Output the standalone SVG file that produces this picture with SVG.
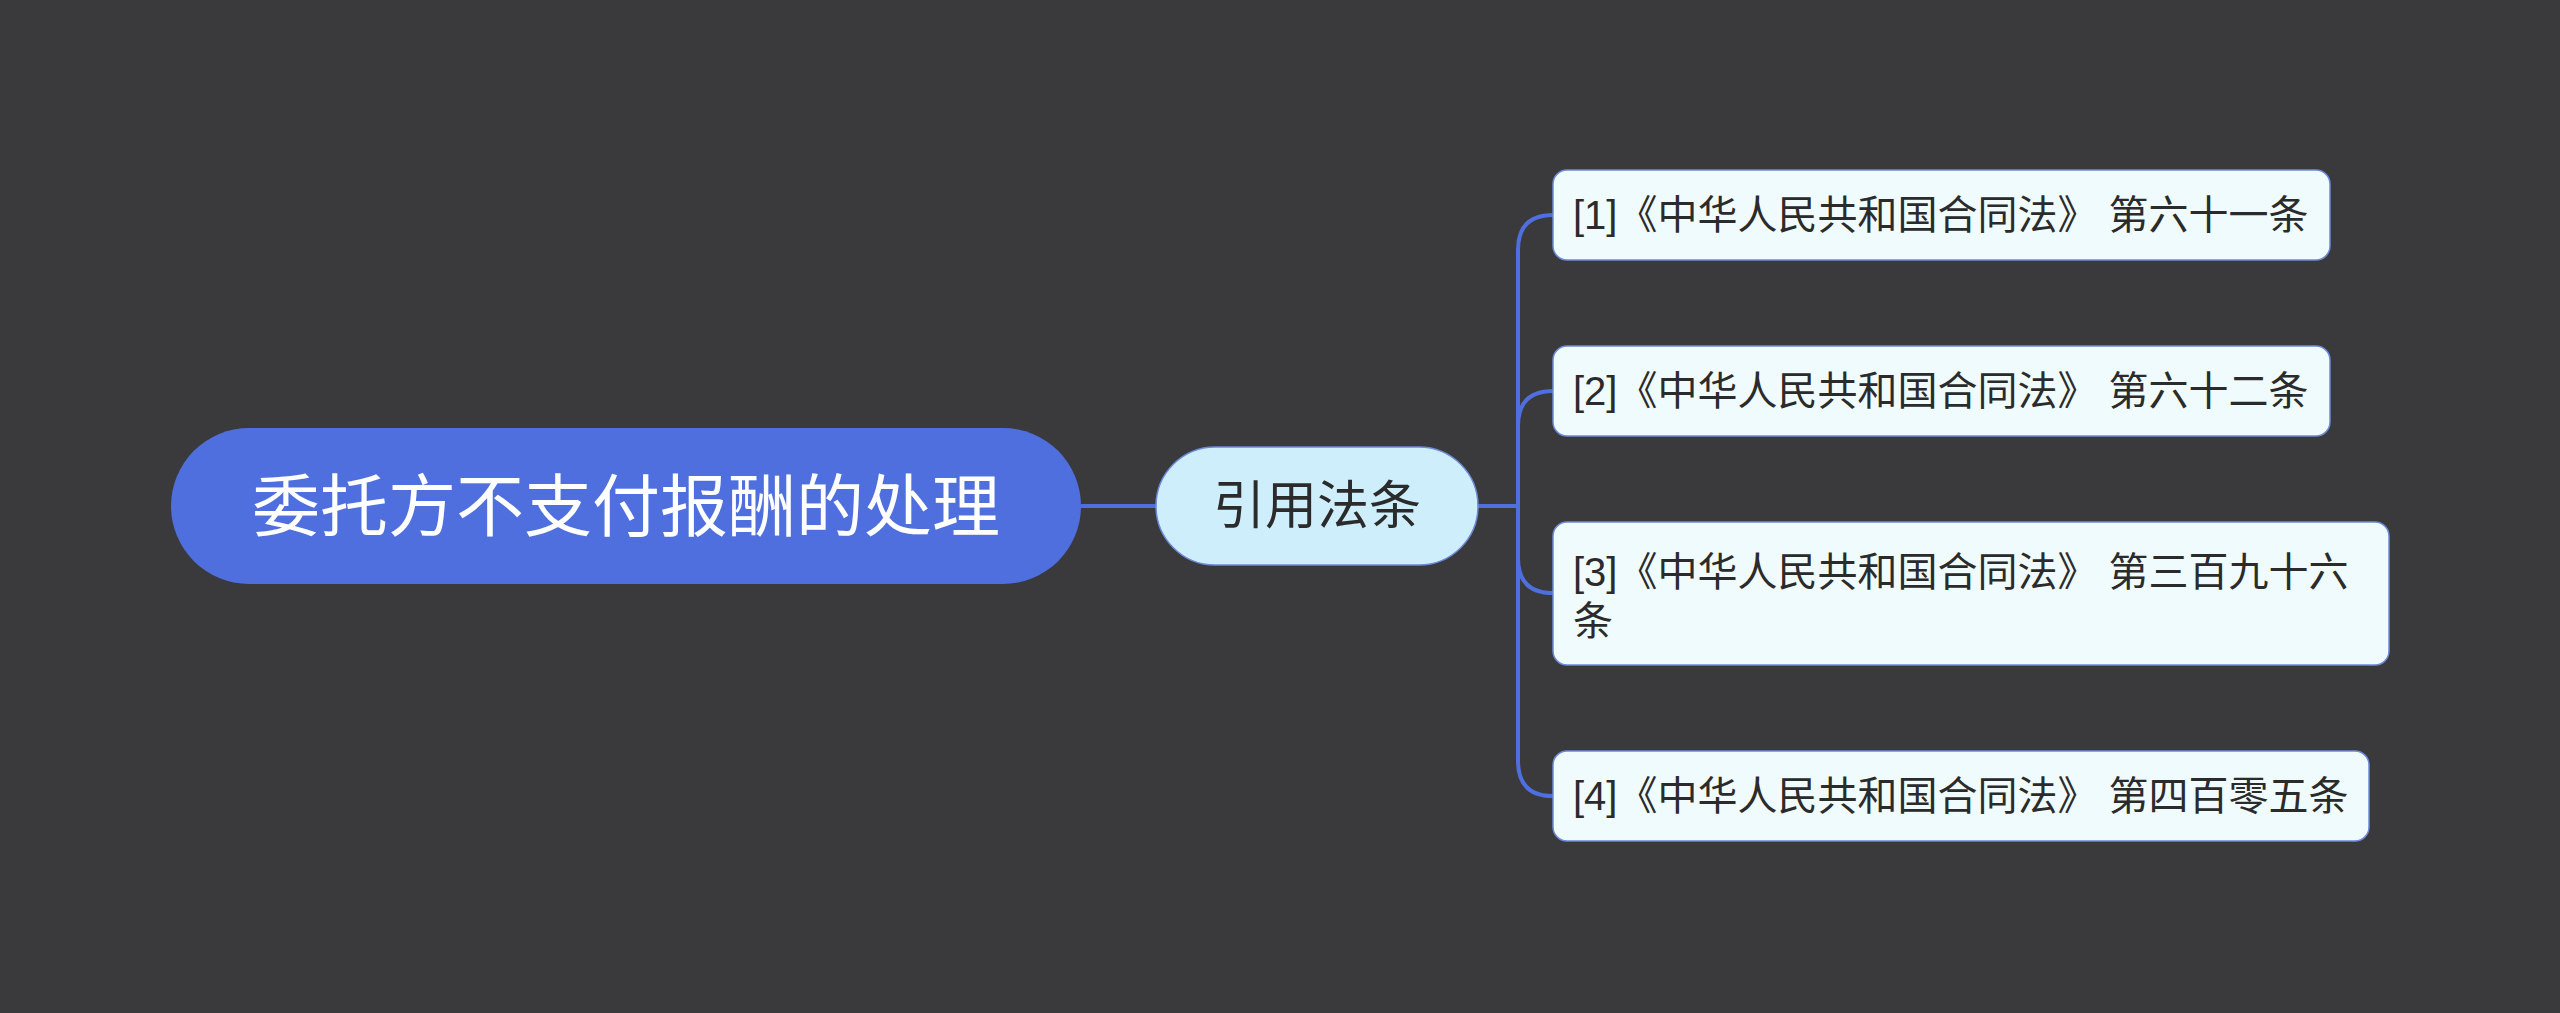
<svg xmlns="http://www.w3.org/2000/svg" width="2560" height="1013" viewBox="0 0 2560 1013">
<style>
.leaf rect{fill:#f0fbfd;stroke:#6d8ad8;stroke-width:1.5}
.leaf text{font-family:"Liberation Sans","Noto Sans CJK SC",sans-serif;font-size:40px;fill:#2b2b2b}
.c{fill:none;stroke:#4f6fde;stroke-width:4}
</style>
<rect width="2560" height="1013" fill="#3a393b"/>
<g id="connectors">
<path class="c" d="M1081 506H1156"/>
<path class="c" d="M1478 506H1518"/>
<path class="c" d="M1518 506V250Q1518 215 1553 215"/>
<path class="c" d="M1518 506V426Q1518 391 1553 391"/>
<path class="c" d="M1518 506V558Q1518 593 1553 593"/>
<path class="c" d="M1518 506V761Q1518 796 1553 796"/>
</g>
<g id="root"><rect x="171" y="428" width="910" height="156" rx="78" fill="#4f6fde"/>
<text x="626" y="531" text-anchor="middle" font-family="Liberation Sans,'Noto Sans CJK SC',sans-serif" font-size="68" fill="#fff">委托方不支付报酬的处理</text></g>
<g id="mid"><rect x="1156" y="447" width="322" height="118" rx="59" fill="#cdeefa" stroke="#6d8ad8" stroke-width="1.5"/>
<text x="1317" y="524" text-anchor="middle" font-family="Liberation Sans,'Noto Sans CJK SC',sans-serif" font-size="52" fill="#2b2b2b">引用法条</text></g>
<g id="leaf1" class="leaf"><rect x="1553" y="170" width="777" height="90" rx="14"/><text x="1573" y="229">[1]《中华人民共和国合同法》 第六十一条</text></g>
<g id="leaf2" class="leaf"><rect x="1553" y="346" width="777" height="90" rx="14"/><text x="1573" y="405">[2]《中华人民共和国合同法》 第六十二条</text></g>
<g id="leaf3" class="leaf"><rect x="1553" y="522" width="836" height="143" rx="14"/><text x="1573" y="586">[3]《中华人民共和国合同法》 第三百九十六</text><text x="1573" y="635">条</text></g>
<g id="leaf4" class="leaf"><rect x="1553" y="751" width="816" height="90" rx="14"/><text x="1573" y="810">[4]《中华人民共和国合同法》 第四百零五条</text></g>
</svg>
